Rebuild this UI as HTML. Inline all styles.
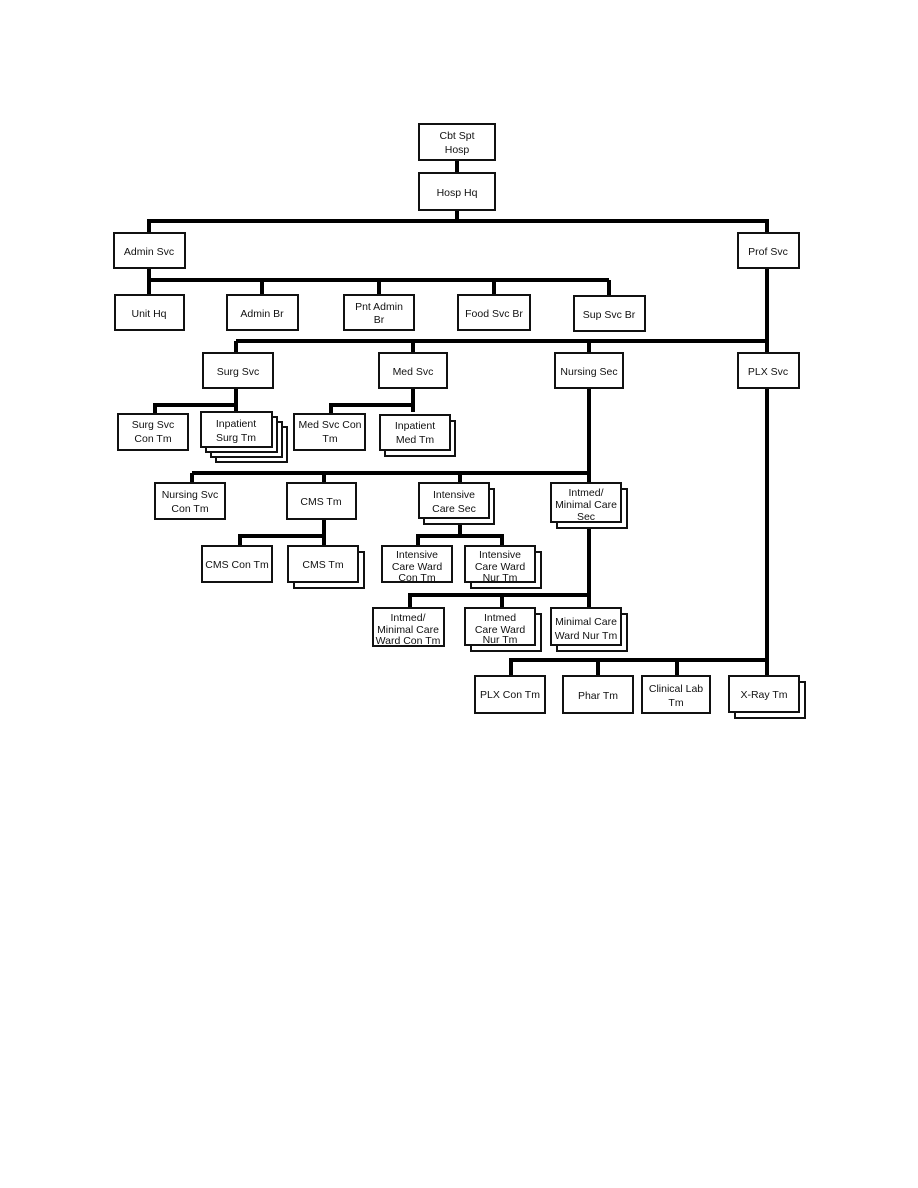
<!DOCTYPE html>
<html><head><meta charset="utf-8"><style>
html,body{margin:0;padding:0;background:#fff;}
svg{display:block;}
text{font-family:"Liberation Sans",Arial,sans-serif;font-size:10.5px;fill:#111;text-anchor:middle;}
.b{fill:#fff;stroke:#111;stroke-width:2;}
.l{stroke:#000;stroke-width:4;fill:none;}
</style></head><body>
<svg width="918" height="1188" viewBox="0 0 918 1188" xmlns="http://www.w3.org/2000/svg">
<path class="l" d="M457 160V173 M457 210V221 M149 221H767 M149 219V233 M767 219V233"/>
<path class="l" d="M149 268V295 M149 280H609 M262 280V295 M379 280V295 M494 280V295 M609 280V296"/>
<path class="l" d="M767 268V353 M236 341H767 M236 341V353 M413 341V353 M589 341V353"/>
<path class="l" d="M236 388V405 H155 V416 M413 388V405 H331 V416 M236 405V412 M413 405V412"/>
<path class="l" d="M589 388V608 M192 473H589 M192 473V483 M324 473V483 M460 473V483"/>
<path class="l" d="M324 519V536 H240 V546 M324 536V546 M460 517V536 H418 V546 M460 536 H502 V546"/>
<path class="l" d="M589 522V595 H410 V608 M502 595V608 M589 595V608"/>
<path class="l" d="M767 388V660 H511 V676 M598 660V676 M677 660V676 M767 660V676"/>
<rect class="b" x="419" y="124" width="76" height="36"/><text x="457" y="139">Cbt Spt</text><text x="457" y="153">Hosp</text>
<rect class="b" x="419" y="173" width="76" height="37"/><text x="457" y="196">Hosp Hq</text>
<rect class="b" x="114" y="233" width="71" height="35"/><text x="149" y="255">Admin Svc</text>
<rect class="b" x="738" y="233" width="61" height="35"/><text x="768" y="255">Prof Svc</text>
<rect class="b" x="115" y="295" width="69" height="35"/><text x="149" y="317">Unit Hq</text>
<rect class="b" x="227" y="295" width="71" height="35"/><text x="262" y="317">Admin Br</text>
<rect class="b" x="344" y="295" width="70" height="35"/><text x="379" y="310">Pnt Admin</text><text x="379" y="323">Br</text>
<rect class="b" x="458" y="295" width="72" height="35"/><text x="494" y="317">Food Svc Br</text>
<rect class="b" x="574" y="296" width="71" height="35"/><text x="609" y="318">Sup Svc Br</text>
<rect class="b" x="203" y="353" width="70" height="35"/><text x="238" y="375">Surg Svc</text>
<rect class="b" x="379" y="353" width="68" height="35"/><text x="413" y="375">Med Svc</text>
<rect class="b" x="555" y="353" width="68" height="35"/><text x="589" y="375">Nursing Sec</text>
<rect class="b" x="738" y="353" width="61" height="35"/><text x="768" y="375">PLX Svc</text>
<rect class="b" x="118" y="414" width="70" height="36"/><text x="153" y="428">Surg Svc</text><text x="153" y="442">Con Tm</text>
<rect class="b" x="216" y="427" width="71" height="35"/><rect class="b" x="211" y="422" width="71" height="35"/><rect class="b" x="206" y="417" width="71" height="35"/>
<rect class="b" x="201" y="412" width="71" height="35"/><text x="236" y="427">Inpatient</text><text x="236" y="441">Surg Tm</text>
<rect class="b" x="294" y="414" width="71" height="36"/><text x="330" y="428">Med Svc Con</text><text x="330" y="442">Tm</text>
<rect class="b" x="385" y="421" width="70" height="35"/>
<rect class="b" x="380" y="415" width="70" height="35"/><text x="415" y="429">Inpatient</text><text x="415" y="443">Med Tm</text>
<rect class="b" x="155" y="483" width="70" height="36"/><text x="190" y="498">Nursing Svc</text><text x="190" y="512">Con Tm</text>
<rect class="b" x="287" y="483" width="69" height="36"/><text x="321" y="505">CMS Tm</text>
<rect class="b" x="424" y="489" width="70" height="35"/>
<rect class="b" x="419" y="483" width="70" height="35"/><text x="454" y="498">Intensive</text><text x="454" y="512">Care Sec</text>
<rect class="b" x="557" y="489" width="70" height="39"/>
<rect class="b" x="551" y="483" width="70" height="39"/><text x="586" y="496">Intmed/</text><text x="586" y="508">Minimal Care</text><text x="586" y="520">Sec</text>
<rect class="b" x="202" y="546" width="70" height="36"/><text x="237" y="568">CMS Con Tm</text>
<rect class="b" x="294" y="552" width="70" height="36"/>
<rect class="b" x="288" y="546" width="70" height="36"/><text x="323" y="568">CMS Tm</text>
<rect class="b" x="382" y="546" width="70" height="36"/><text x="417" y="558">Intensive</text><text x="417" y="570">Care Ward</text><text x="417" y="582" dy="-1">Con Tm</text>
<rect class="b" x="471" y="552" width="70" height="36"/>
<rect class="b" x="465" y="546" width="70" height="36"/><text x="500" y="558">Intensive</text><text x="500" y="570">Care Ward</text><text x="500" y="581">Nur Tm</text>
<rect class="b" x="373" y="608" width="71" height="38"/><text x="408" y="621">Intmed/</text><text x="408" y="633">Minimal Care</text><text x="408" y="645" dy="-1">Ward Con Tm</text>
<rect class="b" x="471" y="614" width="70" height="37"/>
<rect class="b" x="465" y="608" width="70" height="37"/><text x="500" y="621">Intmed</text><text x="500" y="633">Care Ward</text><text x="500" y="644" dy="-1">Nur Tm</text>
<rect class="b" x="557" y="614" width="70" height="37"/>
<rect class="b" x="551" y="608" width="70" height="37"/><text x="586" y="625">Minimal Care</text><text x="586" y="639">Ward Nur Tm</text>
<rect class="b" x="475" y="676" width="70" height="37"/><text x="510" y="698">PLX Con Tm</text>
<rect class="b" x="563" y="676" width="70" height="37"/><text x="598" y="699">Phar Tm</text>
<rect class="b" x="642" y="676" width="68" height="37"/><text x="676" y="692">Clinical Lab</text><text x="676" y="706">Tm</text>
<rect class="b" x="735" y="682" width="70" height="36"/>
<rect class="b" x="729" y="676" width="70" height="36"/><text x="764" y="698">X-Ray Tm</text>
</svg>
</body></html>
